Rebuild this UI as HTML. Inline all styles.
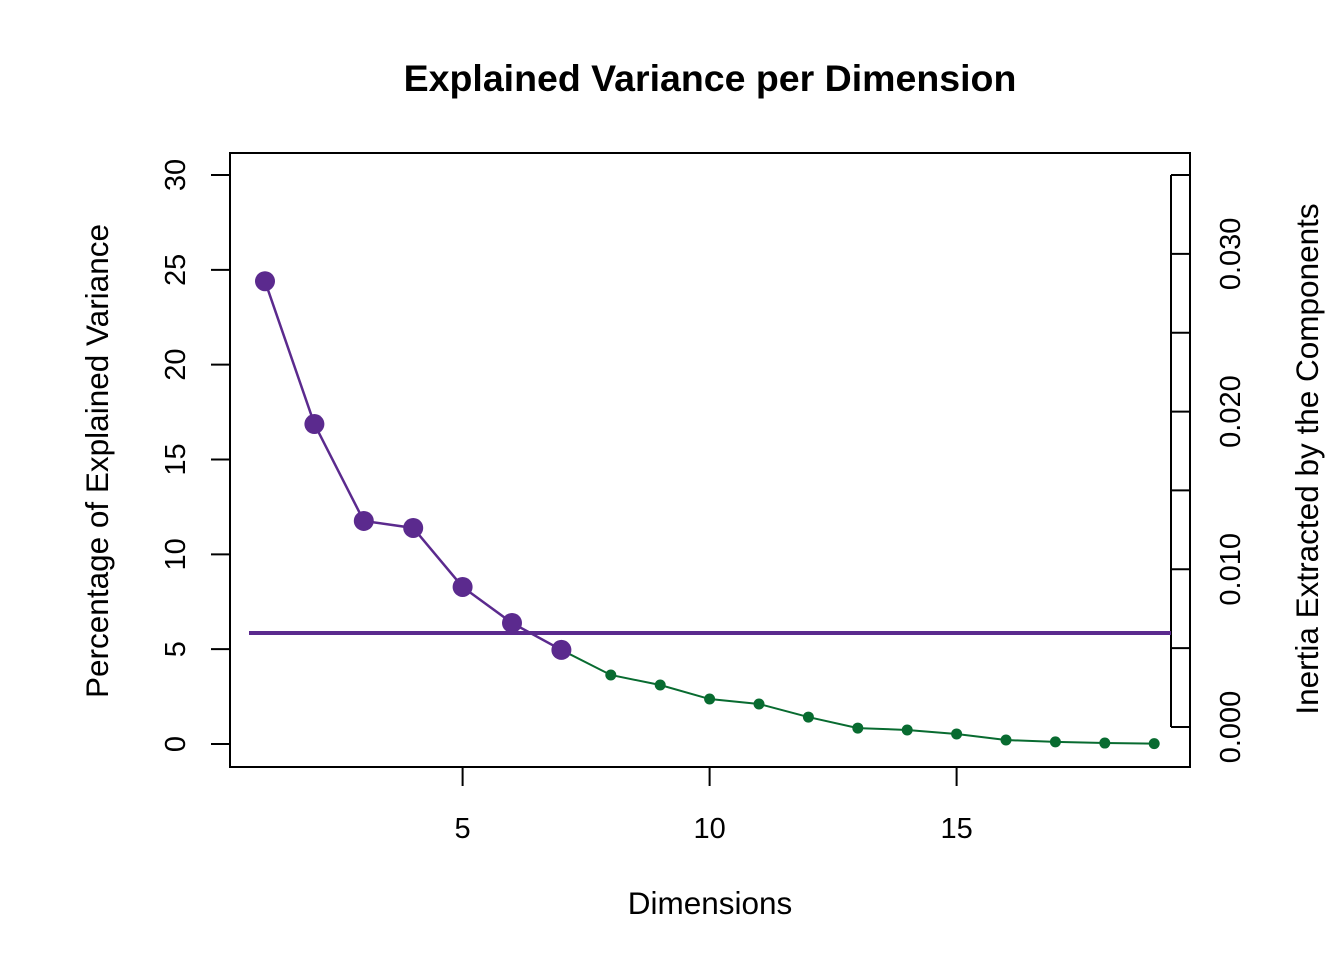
<!DOCTYPE html>
<html><head><meta charset="utf-8"><style>
body{margin:0;background:#fff}
svg text{font-family:"Liberation Sans",Arial,sans-serif;fill:#000}
</style></head><body>
<svg id="chart" width="1344" height="960" xmlns="http://www.w3.org/2000/svg">
<text x="710" y="91" text-anchor="middle" font-size="37.5" font-weight="bold">Explained Variance per Dimension</text>
<rect x="230" y="153" width="960" height="614" fill="none" stroke="#000" stroke-width="2"/>
<g id="xaxis"></g>
<g id="yaxis"></g>
<g id="raxis"></g>
<text x="710" y="914" text-anchor="middle" font-size="31.5">Dimensions</text>
<text transform="translate(108,461) rotate(-90)" text-anchor="middle" font-size="31.5">Percentage of Explained Variance</text>
<text transform="translate(1318,459) rotate(-90)" text-anchor="middle" font-size="31.5">Inertia Extracted by the Components</text>
<g id="marks"></g>
</svg>
<script>
const dims=[1,2,3,4,5,6,7,8,9,10,11,12,13,14,15,16,17,18,19];
const variance=[24.4,16.87,11.76,11.39,8.28,6.38,4.96,3.64,3.11,2.37,2.11,1.42,0.84,0.74,0.53,0.21,0.11,0.05,0.02];
const threshold=5.85;
const xTicks=[5,10,15];
const yTicks=[0,5,10,15,20,25,30];
const rTicks=[0,0.005,0.01,0.015,0.02,0.025,0.03,0.035];
const rLabels=["0.000","0.010","0.020","0.030"];
const nStrong=7;
const NS="http://www.w3.org/2000/svg";
const X=v=>265+(v-1)*49.4;
const Y=v=>744-v*18.967;
const R=v=>727-v*15771;
function mk(p,t,a){const e=document.createElementNS(NS,t);for(const k in a)e.setAttribute(k,a[k]);p.appendChild(e);return e;}
const xa=document.getElementById('xaxis'),ya=document.getElementById('yaxis'),ra=document.getElementById('raxis'),m=document.getElementById('marks');
xTicks.forEach(t=>{mk(xa,'line',{x1:X(t),x2:X(t),y1:767,y2:786,stroke:'#000','stroke-width':2});
const l=mk(xa,'text',{x:X(t),y:838,'text-anchor':'middle','font-size':29});l.textContent=t;

});
yTicks.forEach(t=>{mk(ya,'line',{x1:211,x2:229,y1:Y(t),y2:Y(t),stroke:'#000','stroke-width':2});
const l=mk(ya,'text',{transform:`translate(185,${Y(t)}) rotate(-90)`,'text-anchor':'middle','font-size':29});l.textContent=t;

});
mk(ra,'line',{x1:1171,x2:1171,y1:R(0),y2:R(0.035),stroke:'#000','stroke-width':2});
rTicks.forEach(t=>{mk(ra,'line',{x1:1171,x2:1190,y1:R(t),y2:R(t),stroke:'#000','stroke-width':2});});
rLabels.forEach(s=>{const l=mk(ra,'text',{transform:`translate(1240,${R(parseFloat(s))}) rotate(-90)`,'text-anchor':'middle','font-size':29});l.textContent=s;

});
const pur='#5b2a8e',grn='#086b30';
const hl=mk(m,'line',{x1:249,x2:1171,y1:Y(threshold),y2:Y(threshold),stroke:pur,'stroke-width':4});


const pts=dims.map((d,i)=>[X(d),Y(variance[i])]);
const gl=mk(m,'polyline',{points:pts.slice(nStrong-1).map(p=>p.join(',')).join(' '),fill:'none',stroke:grn,'stroke-width':2});


const pl=mk(m,'polyline',{points:pts.slice(0,nStrong).map(p=>p.join(',')).join(' '),fill:'none',stroke:pur,'stroke-width':2.5});


pts.forEach((p,i)=>{const big=i<nStrong;const c=mk(m,'circle',{cx:p[0],cy:p[1],r:big?10:5.5,fill:big?pur:grn});

});
</script>
</body></html>
